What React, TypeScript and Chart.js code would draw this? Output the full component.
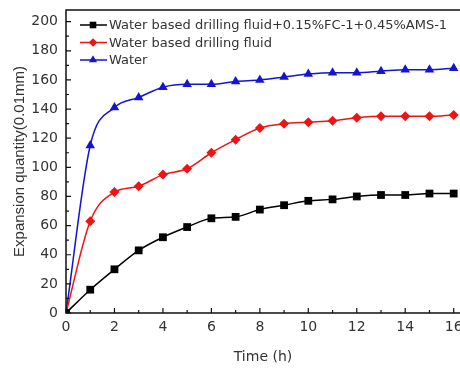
import React, { useEffect, useRef } from 'react';
import { Chart, registerables } from 'chart.js';
Chart.register(...registerables);

const times = [0, 1, 2, 3, 4, 5, 6, 7, 8, 9, 10, 11, 12, 13, 14, 15, 16];
const fluidAdditive = [0, 16, 30, 43, 52, 59, 65, 66, 71, 74, 77, 78, 80, 81, 81, 82, 82];
const fluidBase = [0, 63, 83, 87, 95, 99, 110, 119, 127, 130, 131, 132, 134, 135, 135, 135, 136];
const water = [0, 115, 141, 148, 155, 157, 157, 159, 160, 162, 164, 165, 165, 166, 167, 167, 168];
const xTickValues = [0, 2, 4, 6, 8, 10, 12, 14, 16];
const yTickValues = [0, 20, 40, 60, 80, 100, 120, 140, 160, 180, 200];

const seriesNames = [
  'Water based drilling fluid+0.15%FC-1+0.45%AMS-1',
  'Water based drilling fluid',
  'Water',
];
const seriesColors = ['#000000', '#ee1414', '#1414d2'];
const seriesMarkers = ['rect', 'rectRot', 'triangle'];
const seriesRadius = [5.5, 5, 5.5];
const xTitle = 'Time (h)';
const yTitle = 'Expansion quantity(0.01mm)';

const FONT = '"DejaVu Sans", Arial, sans-serif';
const FONT2 = '"Liberation Sans", Arial, sans-serif';

export default function App() {
  const ref = useRef<HTMLCanvasElement>(null);
  useEffect(() => {
    document.body.style.margin = '0';
    const values = [fluidAdditive, fluidBase, water];
    function drawMarker(ctx: CanvasRenderingContext2D, style: string, r: number, x: number, y: number) {
      ctx.beginPath();
      if (style === 'rect') {
        const s = r * Math.SQRT1_2;
        ctx.rect(x - s, y - s, 2 * s, 2 * s);
      } else if (style === 'rectRot') {
        ctx.moveTo(x, y - r);
        ctx.lineTo(x + r, y);
        ctx.lineTo(x, y + r);
        ctx.lineTo(x - r, y);
        ctx.closePath();
      } else {
        ctx.moveTo(x, y - r);
        ctx.lineTo(x + r * 0.866, y + r * 0.5);
        ctx.lineTo(x - r * 0.866, y + r * 0.5);
        ctx.closePath();
      }
      ctx.fill();
    }
    const framePlugin = {
      id: 'frame',
      afterDraw(chart: any) {
        const { ctx, chartArea: a, scales } = chart;
        ctx.save();
        ctx.strokeStyle = '#111';
        ctx.lineWidth = 1.5;
        ctx.beginPath();
        ctx.moveTo(a.right + 2, a.top);
        ctx.lineTo(a.left, a.top);
        ctx.lineTo(a.left, a.bottom);
        ctx.lineTo(a.right + 2, a.bottom);
        ctx.stroke();
        ctx.lineWidth = 1.2;
        ctx.beginPath();
        for (let v = 0; v <= 16; v += 1) {
          const px = scales.x.getPixelForValue(v);
          const len = v % 2 === 0 ? 5 : 3;
          ctx.moveTo(px, a.bottom);
          ctx.lineTo(px, a.bottom - len);
        }
        for (let v = 0; v <= 200; v += 10) {
          const py = scales.y.getPixelForValue(v);
          const len = v % 20 === 0 ? 5 : 3;
          ctx.moveTo(a.left, py);
          ctx.lineTo(a.left + len, py);
        }
        ctx.stroke();
        // legend
        ctx.font = '13px ' + FONT;
        ctx.textBaseline = 'middle';
        const rows = [25, 42.5, 60];
        for (let i = 0; i < 3; i++) {
          const y = rows[i];
          ctx.strokeStyle = seriesColors[i];
          ctx.lineWidth = 1.5;
          ctx.beginPath();
          ctx.moveTo(80, y);
          ctx.lineTo(107, y);
          ctx.stroke();
          ctx.fillStyle = seriesColors[i];
          drawMarker(ctx, seriesMarkers[i], seriesRadius[i] * 0.85, 93, y);
          ctx.fillStyle = '#333';
          ctx.fillText(seriesNames[i], 109, y + 1);
        }
        ctx.restore();
      },
    };
    const chart = new Chart(ref.current!, {
      type: 'line',
      data: {
        labels: times,
        datasets: values.map((vals, i) => ({
          label: seriesNames[i],
          data: times.map((t, k) => ({ x: t, y: vals[k] })),
          borderColor: seriesColors[i],
          backgroundColor: seriesColors[i],
          borderWidth: 1.5,
          pointStyle: seriesMarkers[i] as any,
          pointRadius: seriesRadius[i],
          pointBorderWidth: 0,
          cubicInterpolationMode: 'monotone' as const,
        })),
      },
      options: {
        animation: false,
        responsive: false,
        layout: { autoPadding: false, padding: { top: 10, right: 0, left: 0, bottom: 0 } },
        plugins: { legend: { display: false }, tooltip: { enabled: false } },
        scales: {
          x: {
            type: 'linear',
            min: 0,
            max: 16.26,
            grid: { display: false, drawTicks: false, tickLength: 0 },
            border: { display: false },
            ticks: { color: '#333', font: { family: FONT, size: 14 }, padding: 6, maxRotation: 0, autoSkip: false },
            title: { display: true, text: xTitle, color: '#333', font: { family: FONT, size: 14 }, padding: { top: 10 } },
            afterBuildTicks(scale: any) {
              scale.ticks = xTickValues.map((v) => ({ value: v }));
            },
            afterFit(scale: any) {
              scale.height = 57;
              scale.paddingLeft = 0;
              scale.paddingRight = 0;
            },
          },
          y: {
            min: 0,
            max: 208,
            grid: { display: false, drawTicks: false, tickLength: 0 },
            border: { display: false },
            ticks: { color: '#333', font: { family: FONT, size: 14 }, padding: 8, autoSkip: false },
            title: { display: true, text: yTitle, color: '#333', font: { family: FONT2, size: 15 }, padding: { top: 11, bottom: 0 } },
            afterBuildTicks(scale: any) {
              scale.ticks = yTickValues.map((v) => ({ value: v }));
            },
            afterFit(scale: any) {
              scale.width = 66;
              scale.paddingTop = 0;
              scale.paddingBottom = 0;
            },
          },
        },
      },
      plugins: [framePlugin],
    });
    return () => chart.destroy();
  }, []);
  return (
    <div style={{ position: 'fixed', left: 0, top: 0, width: 460, height: 370, background: '#fff' }}>
      <canvas ref={ref} width={460} height={370} />
    </div>
  );
}
